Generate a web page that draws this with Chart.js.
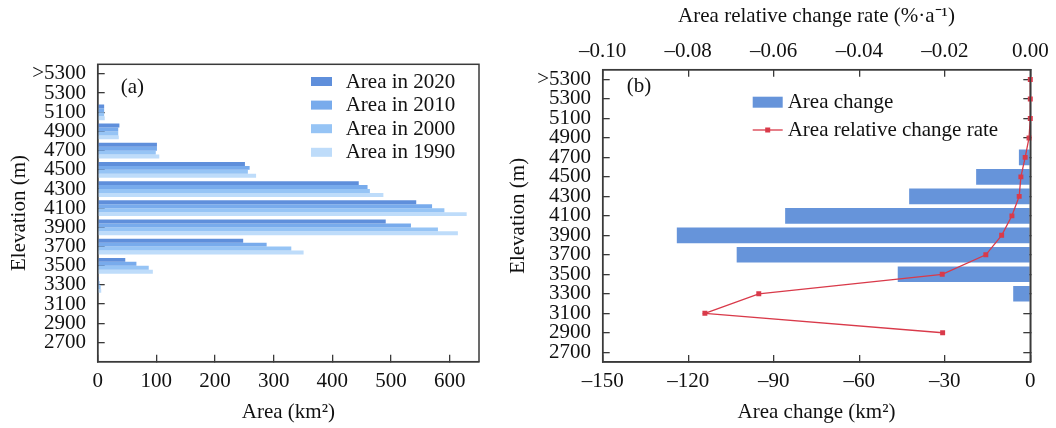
<!DOCTYPE html>
<html><head><meta charset="utf-8">
<script src="https://cdn.jsdelivr.net/npm/chart.js@4/dist/chart.umd.min.js"></script>
<style>
html,body{margin:0;padding:0;background:#fff;overflow:hidden}
#wrap{position:relative;width:1056px;height:428px;background:#fff}
canvas{position:absolute;top:0}
#ca{left:0}
#cb{left:500px}
</style></head><body>
<div id="wrap"><canvas id="ca" width="500" height="428"></canvas><canvas id="cb" width="556" height="428"></canvas></div>
<script>
// ---- data ----
const elevations = ['>5300','5300','5100','4900','4700','4500','4300','4100','3900','3700','3500','3300','3100','2900','2700'];
const area2020 = [null,null,11,37,101,251,445,543,491,248,47,2,null,null,null];
const area2010 = [null,null,11,35,101,259,460,570,534,288,66,3,null,null,null];
const area2000 = [null,null,11,35,99,256,464,591,580,330,87,5,null,null,null];
const area1990 = [null,null,12,36,105,270,487,629,614,351,94,6,null,null,null];
const areaChange = [null,null,null,null,-4,-19,-42.5,-86,-124,-103,-46.5,-6,null,null,null];
const changeRate = [0,0,0,-0.0003,-0.0012,-0.0022,-0.0026,-0.0043,-0.0067,-0.0104,-0.0206,-0.0635,-0.0761,-0.0205,null];
const areaTicks = [0,100,200,300,400,500,600];
const changeTicks = [-150,-120,-90,-60,-30,0];
const rateTicks = [-0.10,-0.08,-0.06,-0.04,-0.02,0];
const areaSeries = ['Area in 2020','Area in 2010','Area in 2000','Area in 1990'];

// ---- style ----
const FONT = "'Liberation Serif','Times New Roman',serif";
const INK = '#111111';
const AXIS = '#3a3a3a';
const COLORS_A = ['#5F8FDB','#78ABEC','#96C4F5','#BEDCFA'];
const COLOR_B = '#6694DA';
const RED = '#D93A4A';
Chart.defaults.font.family = FONT;
Chart.defaults.font.size = 21;
Chart.defaults.color = INK;

const pts = arr => arr.map((v,i)=> v==null ? null : {x:v, y:i}).filter(p => p);
const setTicks = list => s => { s.ticks = list.map(v => ({value:v})); };
const idxTicks = setTicks(elevations.map((_,i)=>i));
const dash = '\u2013';
const fixH = h => s => { s.height = h; s.paddingLeft = 0; s.paddingRight = 0; };
const fixW = w => s => { s.width = w; };

const framePlugin = {
  id:'frame',
  afterDraw(chart){
    const {ctx, chartArea:a} = chart;
    ctx.save();
    ctx.strokeStyle = AXIS; ctx.lineWidth = 1.5;
    ctx.strokeRect(a.left, a.top, a.right-a.left, a.bottom-a.top);
    ctx.restore();
  }
};

const legendA = {
  id:'legendA',
  afterDraw(chart){
    const ctx = chart.ctx;
    ctx.save();
    ctx.font = '21px ' + FONT;
    ctx.fillStyle = INK; ctx.textBaseline = 'alphabetic'; ctx.textAlign = 'left';
    ctx.fillText('(a)', 120.7, 92.7);
    areaSeries.forEach((name,i)=>{
      const cy = 81.5 + i*23.6;
      ctx.fillStyle = COLORS_A[i];
      ctx.fillRect(311, cy-4.5, 21, 9);
      ctx.fillStyle = INK;
      ctx.fillText(name, 345.7, cy+6);
    });
    ctx.restore();
  }
};

const legendB = {
  id:'legendB',
  afterDraw(chart){
    const ctx = chart.ctx;
    ctx.save();
    ctx.font = '21px ' + FONT;
    ctx.fillStyle = INK; ctx.textBaseline = 'alphabetic'; ctx.textAlign = 'left';
    ctx.fillText('(b)', 126.7, 92);
    ctx.fillStyle = COLOR_B;
    ctx.fillRect(252.7, 96.7, 30, 11);
    ctx.fillStyle = INK;
    ctx.fillText(chart.data.datasets[1].label, 287.7, 108);
    ctx.strokeStyle = RED; ctx.lineWidth = 1.3;
    ctx.beginPath(); ctx.moveTo(252.7,130); ctx.lineTo(282.7,130); ctx.stroke();
    ctx.fillStyle = RED; ctx.fillRect(265.2,127.5,5,5);
    ctx.fillStyle = INK;
    ctx.fillText(chart.data.datasets[0].label, 287.7, 136);
    ctx.restore();
  }
};

const gridOpts = {drawOnChartArea:false, tickLength:-7, color:AXIS, lineWidth:1.3, offset:false};
const borderOpts = {color:AXIS, width:1.5};

// ---- panel (a) ----
new Chart(document.getElementById('ca'), {
  type:'bar',
  data:{
    datasets:[area2020, area2010, area2000, area1990].map((arr,i)=>({
      label: areaSeries[i], data: pts(arr), backgroundColor: COLORS_A[i], borderWidth:0,
      categoryPercentage:0.82, barPercentage:1.0
    }))
  },
  options:{
    responsive:false, animation:false, indexAxis:'y',
    layout:{padding:{top:64.3, right:21, bottom:0, left:0}},
    plugins:{legend:{display:false}, tooltip:{enabled:false}},
    scales:{
      x:{type:'linear', position:'bottom', min:0, max:650, offset:false,
        afterBuildTicks: setTicks(areaTicks),
        afterFit: fixH(66.3),
        ticks:{padding:13.7, autoSkip:false, maxRotation:0, color:INK, callback: v => String(v)},
        grid:gridOpts, border:borderOpts,
        title:{display:true, text:'Area (km\u00B2)', color:INK, padding:{top:0, bottom:3.4}}},
      y:{type:'linear', position:'left', reverse:true, min:-0.5, max:15, offset:false,
        afterBuildTicks: idxTicks,
        afterFit: fixW(97.7),
        ticks:{padding:18.7, autoSkip:false, color:INK, callback: v => elevations[v] ?? ''},
        grid:gridOpts, border:borderOpts,
        title:{display:true, text:'Elevation (m)', color:INK, padding:{top:6.4, bottom:0}}}
    }
  },
  plugins:[framePlugin, legendA]
});

// ---- panel (b) ----
new Chart(document.getElementById('cb'), {
  type:'bar',
  data:{
    datasets:[
      {type:'line', label:'Area relative change rate', data: pts(changeRate), xAxisID:'x2', yAxisID:'y',
       indexAxis:'y', borderColor:RED, backgroundColor:RED, borderWidth:1.3, pointStyle:'rect',
       pointRadius:3.5, pointBorderWidth:0, tension:0, clip:10, order:0},
      {type:'bar', label:'Area change', data: pts(areaChange), xAxisID:'x', yAxisID:'y',
       indexAxis:'y', backgroundColor:COLOR_B, borderWidth:0, categoryPercentage:0.8, barPercentage:1.0, order:1}
    ]
  },
  options:{
    responsive:false, animation:false, indexAxis:'y',
    layout:{padding:{top:0, right:25.7, bottom:0, left:0}},
    plugins:{legend:{display:false}, tooltip:{enabled:false}},
    scales:{
      x:{type:'linear', position:'bottom', min:-150, max:0, offset:false,
        afterBuildTicks: setTicks(changeTicks),
        afterFit: fixH(66),
        ticks:{padding:13.4, autoSkip:false, maxRotation:0, color:INK, callback: v => v < 0 ? dash + Math.abs(v) : '0'},
        grid:gridOpts, border:borderOpts,
        title:{display:true, text:'Area change (km\u00B2)', color:INK, padding:{top:0, bottom:3.4}}},
      x2:{type:'linear', position:'top', min:-0.1, max:0, offset:false,
        afterBuildTicks: setTicks(rateTicks),
        afterFit: fixH(69.7),
        ticks:{padding:13.1, autoSkip:false, maxRotation:0, color:INK, callback: v => v < 0 ? dash + Math.abs(v).toFixed(2) : '0.00'},
        grid:gridOpts, border:borderOpts,
        title:{display:true, text:'Area relative change rate (%\u00B7a\u207B\u00B9)', color:INK, padding:{top:3.4, bottom:0}}},
      y:{type:'linear', position:'left', reverse:true, min:-0.5, max:14.5, offset:false,
        afterBuildTicks: idxTicks,
        afterFit: fixW(102.7),
        ticks:{padding:18.7, autoSkip:false, color:INK, callback: v => elevations[v] ?? ''},
        grid:gridOpts, border:borderOpts,
        title:{display:true, text:'Elevation (m)', color:INK, padding:{top:5.4, bottom:0}}},
      yR:{type:'linear', position:'right', reverse:true, min:-0.5, max:14.5, offset:false,
        afterBuildTicks: idxTicks,
        afterFit: fixW(0),
        ticks:{display:false},
        grid:gridOpts, border:borderOpts}
    }
  },
  plugins:[framePlugin, legendB]
});
</script>
</body></html>
